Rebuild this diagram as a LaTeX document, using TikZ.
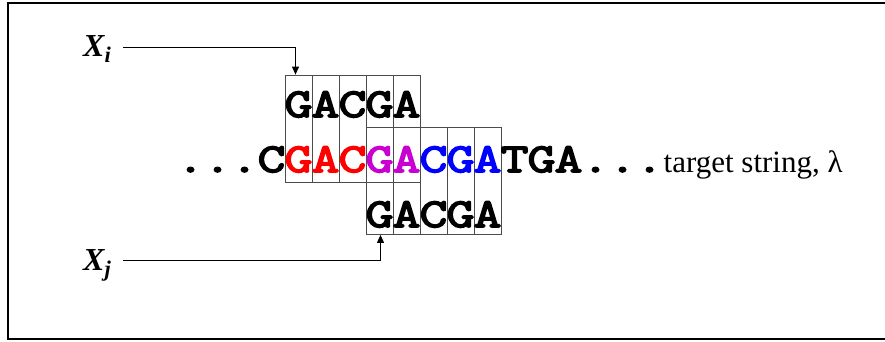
\documentclass[tikz,border=0pt]{standalone}
\usepackage{fontspec}
\setmainfont{Liberation Serif}
\newfontfamily\dnafont{Latin Modern Mono}[FakeBold=4,FakeStretch=1.32]
\usetikzlibrary{arrows.meta}
\definecolor{dnared}{RGB}{255,0,0}
\definecolor{dnamag}{RGB}{200,0,210}
\definecolor{dnablue}{RGB}{0,0,255}

\begin{document}
\begin{tikzpicture}[x=1pt,y=-1pt,
	cell/.style={draw=black!70,line width=0.8pt,minimum width=27pt,minimum height=107pt,inner sep=0pt},
	dna/.style={font=\dnafont\bfseries\fontsize{41}{41}\selectfont,inner sep=0pt,anchor=base},
	lbl/.style={font=\bfseries\itshape\fontsize{32}{32}\selectfont,inner sep=0pt,anchor=base west},
	ptr/.style={line width=1pt,-{Triangle[length=8pt,width=7pt]}}]
	\useasboundingbox (0,0) rectangle (885,341);
	\draw[line width=2pt] (886,3) -- (8,3) -- (8,339) -- (886,339);
	% the two windows of five cells
	\foreach \k in {1,...,5}
	{\node[cell] (top-\k) at (271.5+27*\k,128.5) {};
		\node[cell] (bot-\k) at (352.5+27*\k,181) {};}
	\foreach \ch [count=\k] in {G,A,C,G,A}
	{\node[dna] (xi-\k) at (271.5+27*\k,117) {\ch};
		\node[dna] (xj-\k) at (352.5+27*\k,227) {\ch};}
	% target string
	\foreach \ch/\col [count=\k] in {./black,./black,./black,C/black,G/dnared,A/dnared,C/dnared,G/dnamag,A/dnamag,C/dnablue,G/dnablue,A/dnablue,T/black,G/black,A/black,./black,./black,./black}
	{\node[dna,text=\col] (t-\k) at (163.5+27*\k,172) {\ch};}
	\node[anchor=base west,inner sep=0pt,font=\fontsize{31}{31}\selectfont] (lam) at ([xshift=14pt]t-18.base) {target string, λ};
	% pointers
	\node[lbl] (xi) at (83,56) {X\textsubscript{i}};
	\node[lbl] (xj) at (83,270) {X\textsubscript{j}};
	\coordinate (xi-out) at (123,47.7);
	\coordinate (xj-out) at (123,260.7);
	\draw[ptr] (xi-out) -| ([xshift=-3pt]top-1.north);
	\draw[ptr] (xj-out) -| ([xshift=1pt]bot-1.south);
\end{tikzpicture}
\end{document}
